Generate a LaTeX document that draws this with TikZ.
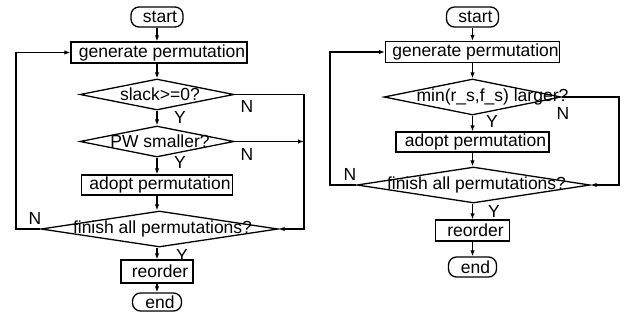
\documentclass[tikz,border=0pt]{standalone}
\usepackage{fontspec}
\setmainfont{Liberation Sans}
\usetikzlibrary{shapes.geometric,arrows.meta}
\begin{document}
\begin{tikzpicture}[x=1pt,y=-1pt,
  every node/.style={font=\fontsize{17.5}{20}\selectfont},
  lab/.style={inner sep=0pt},
  txt/.style={label={[lab,xshift=3pt]center:{#1}}},
  box/.style={draw,line width=1.3pt,inner sep=0pt},
  term/.style={box,rounded corners=8pt},
  dia/.style={draw,diamond,line width=1.3pt,inner sep=0pt},
  conn/.style={line width=1.3pt,-{Latex[length=6pt,width=4.5pt]}},
  yn/.style={inner sep=0pt}]
\useasboundingbox (0,0) rectangle (624,327);
% ---------------- left chart ----------------
\node[term,minimum width=52pt,minimum height=20pt,txt=start] (s1) at (157,17) {};
\node[box,minimum width=176pt,minimum height=21pt,txt={generate permutation}] (g1) at (159,52.5) {};
\node[dia,minimum width=154pt,minimum height=31pt,txt={slack>=0?}] (d1) at (157,94.5) {};
\node[dia,minimum width=154pt,minimum height=31pt,txt={PW smaller?}] (d2) at (157,141.5) {};
\node[box,minimum width=151pt,minimum height=20pt,txt={adopt permutation}] (a1) at (157,185) {};
\node[dia,minimum width=237pt,minimum height=36pt,txt={finish all permutations?}] (d3) at (159.5,229) {};
\node[box,minimum width=72pt,minimum height=23pt,txt=reorder] (r1) at (157,271.5) {};
\node[term,minimum width=49pt,minimum height=18pt,txt=end] (e1) at (157,302) {};
\coordinate (c1) at (304,94.5);
\coordinate (c2) at (304,229);
\coordinate (c3) at (16,229);
\draw[conn] (s1.south) -- (s1.south |- g1.north);
\draw[conn] (s1 |- g1.south) -- (d1.north);
\draw[conn] (d1.south) -- (d2.north);
\draw[conn] (d2.south) -- (a1.north);
\draw[conn] (a1.south) -- (a1.south |- d3.north);
\draw[conn] (a1 |- d3.south) -- (r1.north);
\draw[conn] (r1.south) -- (e1.north);
\draw[conn] (d1.east) -- (c1) -- (c2) -- (d3.east);
\draw[conn] (d2.east) -- (d2.east -| c1);
\draw[conn] (d3.west) -- (c3) |- (g1.west);
\node[yn] (n1) at (247,106) {N};
\node[yn] (y1) at (180,117) {Y};
\node[yn] (n2) at (247,154) {N};
\node[yn] (y2) at (180,162) {Y};
\node[yn] (n3) at (35,218) {N};
\node[yn] (y3) at (182,255) {Y};
% ---------------- right chart ----------------
\node[term,minimum width=52pt,minimum height=20pt,txt=start] (s2) at (472.5,17) {};
\node[box,minimum width=174pt,minimum height=21pt,txt={generate permutation}] (g2) at (472.5,52) {};
\node[dia,minimum width=177pt,minimum height=36pt,label={[lab,xshift=20pt]center:{min(r\_s,f\_s) larger?}}] (d4) at (472.5,97) {};
\node[box,minimum width=153pt,minimum height=20pt,txt={adopt permutation}] (a2) at (472.5,142) {};
\node[dia,minimum width=233pt,minimum height=36pt,txt={finish all permutations?}] (d5) at (473.5,185) {};
\node[box,minimum width=74pt,minimum height=21pt,txt=reorder] (r2) at (472.5,230.5) {};
\node[term,minimum width=48pt,minimum height=20pt,txt=end] (e2) at (472.5,267) {};
\coordinate (c4) at (619,97);
\coordinate (c5) at (619,185);
\coordinate (c6) at (330,185);
\draw[conn] (s2.south) -- (g2.north);
\draw[conn] (g2.south) -- (d4.north);
\draw[conn] (d4.south) -- (a2.north);
\draw[conn] (a2.south) -- (a2.south |- d5.north);
\draw[conn] (a2 |- d5.south) -- (r2.north);
\draw[conn] (r2.south) -- (e2.north);
\draw[conn] (d4.east) -- (c4) -- (c5) -- (d5.east);
\draw[conn] (d5.west) -- (c6) |- (g2.west);
\node[yn] (n4) at (563,113) {N};
\node[yn] (y4) at (492,121) {Y};
\node[yn] (n5) at (350,174) {N};
\node[yn] (y5) at (494,211) {Y};
\end{tikzpicture}
\end{document}
